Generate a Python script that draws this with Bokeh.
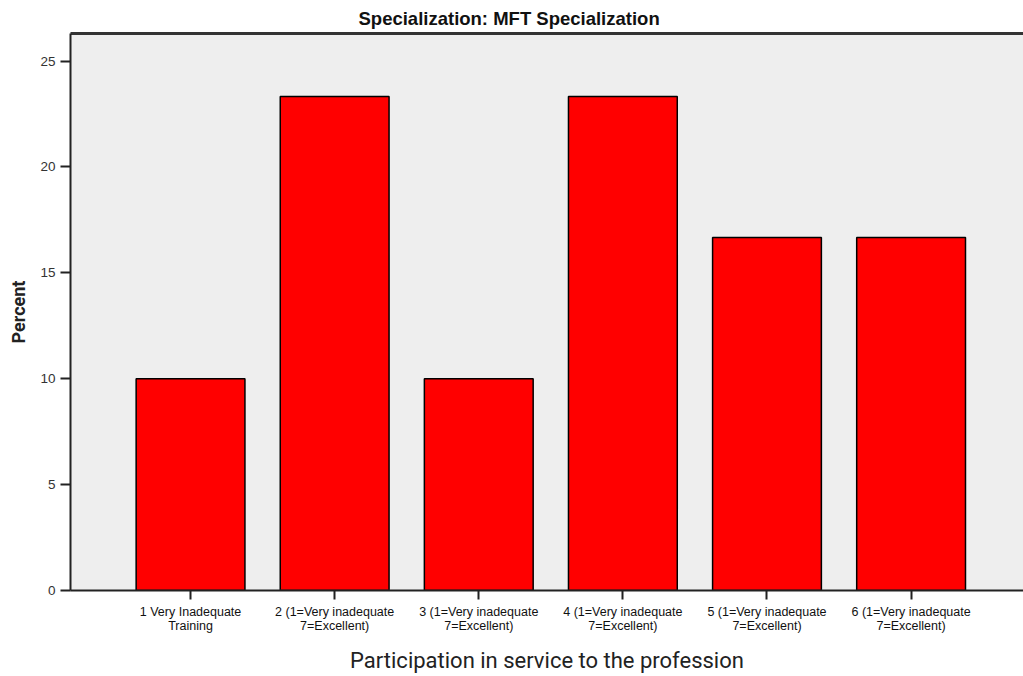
from bokeh.plotting import figure
from bokeh.models import FixedTicker, LinearAxis, Range1d, ColumnDataSource
from bokeh.embed import file_html
from bokeh.resources import INLINE

categories = ["1 Very Inadequate\nTraining",
              "2 (1=Very inadequate\n7=Excellent)",
              "3 (1=Very inadequate\n7=Excellent)",
              "4 (1=Very inadequate\n7=Excellent)",
              "5 (1=Very inadequate\n7=Excellent)",
              "6 (1=Very inadequate\n7=Excellent)"]
positions = [1, 2, 3, 4, 5, 6]
percent = [10.0, 23.33, 10.0, 23.33, 16.67, 16.67]
y_ticks = [0, 5, 10, 15, 20, 25]

src = ColumnDataSource(dict(x=positions, top=percent))

p = figure(width=1023, height=676, output_backend="svg", toolbar_location=None,
           x_range=Range1d(0.167, 6.78), y_range=Range1d(0, 26.3),
           min_border_left=70, min_border_right=0, min_border_top=16, min_border_bottom=84)
p.background_fill_color = "#EEEEEE"
p.border_fill_color = "white"
p.outline_line_color = None
p.grid.visible = False

p.vbar(x="x", top="top", width=0.755, source=src, fill_color="#FF0000",
       line_color="black", line_width=1.5)

p.title.text = "Specialization: MFT Specialization"
p.title.align = "left"
p.title.offset = 288
p.title.text_font = "Liberation Sans"
p.title.text_font_size = "18.5px"
p.title.text_font_style = "bold"
p.title.text_color = "#111111"

xa = p.xaxis[0]
xa.ticker = FixedTicker(ticks=positions)
xa.major_label_overrides = {pos: lab for pos, lab in zip(positions, categories)}
xa.major_label_text_font = "Liberation Sans"
xa.major_label_text_font_size = "12.5px"
xa.major_label_text_color = "#111111"
xa.major_label_text_line_height = 1.05
xa.major_tick_out = 9
xa.major_tick_in = 0
xa.minor_tick_line_color = None
xa.axis_line_width = 2
xa.axis_line_color = "#222222"
xa.major_tick_line_width = 2
xa.major_tick_line_color = "#222222"
xa.axis_label = "Participation in service to the profession"
xa.axis_label_text_font = "Roboto"
xa.axis_label_text_font_size = "22px"
xa.axis_label_text_font_style = "normal"
xa.axis_label_text_color = "#222222"
xa.axis_label_standoff = 12

ya = p.yaxis[0]
ya.ticker = FixedTicker(ticks=y_ticks)
ya.major_label_text_font = "Liberation Sans"
ya.major_label_text_font_size = "13.5px"
ya.major_label_text_color = "#333333"
ya.major_tick_out = 10
ya.major_tick_in = 0
ya.minor_tick_line_color = None
ya.axis_line_width = 2
ya.axis_line_color = "#222222"
ya.major_tick_line_width = 2
ya.major_tick_line_color = "#222222"
ya.axis_label = "Percent"
ya.axis_label_text_font = "Roboto"
ya.axis_label_text_font_size = "18px"
ya.axis_label_text_font_style = "bold"
ya.axis_label_text_color = "#222222"
ya.axis_label_standoff = 8

top_axis = LinearAxis(major_tick_line_color=None, minor_tick_line_color=None,
                      major_label_text_font_size="0px", axis_line_width=3,
                      axis_line_color="#333333", ticker=FixedTicker(ticks=[]))
p.add_layout(top_axis, "above")

open("out.html", "w").write(file_html(p, INLINE))
